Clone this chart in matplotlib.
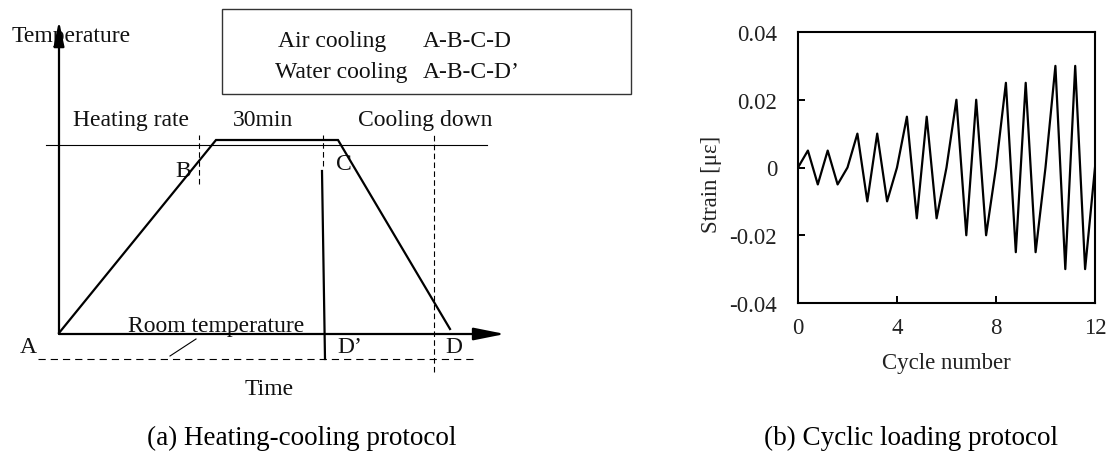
import matplotlib.pyplot as plt
from matplotlib.patches import Rectangle

plt.rcParams["font.family"] = ["Liberation Serif", "DejaVu Serif"]

# (a) schematic heating-cooling protocol, time/temperature in sketch units
air_t = [0, 157, 279, 391]
air_T = [1, 194, 194, 5]
water_t = [263, 266]
water_T = [163, -25]
max_T = 189
room_T = -25
guide_t = [140, 264, 375]
guide_lo = [150, 168, -38]
guide_hi = 199
axis_T_top = 313
axis_t_end = 446

# (b) cyclic loading history
cycle = [0, 0.4, 0.8, 1.2, 1.6, 2.0, 2.4, 2.8, 3.2, 3.6, 4.0, 4.4, 4.8, 5.2, 5.6,
         6.0, 6.4, 6.8, 7.2, 7.6, 8.0, 8.4, 8.8, 9.2, 9.6, 10.0, 10.4, 10.8, 11.2,
         11.6, 12.0]
strain = [0, 0.005, -0.005, 0.005, -0.005, 0, 0.01, -0.01, 0.01, -0.01, 0,
          0.015, -0.015, 0.015, -0.015, 0, 0.02, -0.02, 0.02, -0.02, 0,
          0.025, -0.025, 0.025, -0.025, 0, 0.03, -0.03, 0.03, -0.03, 0]
yticks = [-0.04, -0.02, 0, 0.02, 0.04]
ytick_labels = ["-0.04", "-0.02", "0", "0.02", "0.04"]
xticks = [0, 4, 8, 12]

W, H = 1108, 452
fig = plt.figure(figsize=(W / 100, H / 100), dpi=100)

# left panel: one data unit = one pixel, origin at point A
ax = fig.add_axes([0, 0, 640 / W, 1])
ax.set_xlim(-59, 640 - 59)
ax.set_ylim(335 - H, 335)
ax.axis("off")

fs = 17
k = "k"
ax.plot([-13, 428], [max_T, max_T], color=k, lw=0.8)
ax.plot([-21, 418], [room_T, room_T], color=k, lw=0.8, ls=(0, (6.5, 4.5)))
for t, lo in zip(guide_t, guide_lo):
    ax.plot([t, t], [lo, guide_hi], color=k, lw=0.8, ls=(0, (5, 3)))

ax.annotate("", xy=(0, axis_T_top), xytext=(0, 0), zorder=4,
            arrowprops=dict(arrowstyle="-|>,head_length=1.5,head_width=0.32",
                            mutation_scale=10, lw=1.6, color=k,
                            shrinkA=0, shrinkB=0))
ax.annotate("", xy=(axis_t_end, 0), xytext=(0, 0), zorder=4,
            arrowprops=dict(arrowstyle="-|>,head_length=1.9,head_width=0.38",
                            mutation_scale=10, lw=1.6, color=k,
                            shrinkA=0, shrinkB=0))

ax.plot(air_t, air_T, color=k, lw=1.6, solid_joinstyle="miter")
ax.plot(water_t, water_T, color=k, lw=1.6)
ax.plot([111, 137], [-22, -5], color=k, lw=0.8)

ax.add_patch(Rectangle((163, 240), 409, 85, fill=False, lw=1.0, ec="#333333"))

labels = [
    ("Temperature", -47, 293),
    ("Air cooling", 219, 288),
    ("A-B-C-D", 364, 288),
    ("Water cooling", 216, 257),
    ("A-B-C-D\u2019", 364, 257),
    ("Heating rate", 14, 209),
    ("30min", 174, 209),
    ("Cooling down", 299, 209),
    ("B", 116, 158),
    ("C", 277, 165),
    ("Room temperature", 69, 3),
    ("A", -39, -18),
    ("D\u2019", 278, -18),
    ("D", 386, -18),
    ("Time", 186, -60),
]
for s, x, y in labels:
    ax.text(x, y, s, fontsize=fs, ha="left", va="baseline", color="#111111",
            zorder=1)

fig.text(302 / W, 1 - 445 / H, "(a) Heating-cooling protocol", fontsize=19.5,
         ha="center", va="baseline")

# right panel: strain history
ax2 = fig.add_axes([798 / W, 1 - 304 / H, 297 / W, 271 / H])
ax2.plot(cycle, strain, color=k, lw=1.6)
ax2.set_xlim(0, 12)
ax2.set_ylim(-0.04, 0.04)
ax2.set_xticks(xticks)
ax2.set_yticks(yticks)
ax2.set_yticklabels(ytick_labels)
for sp in ax2.spines.values():
    sp.set_linewidth(1.5)
ax2.tick_params(direction="in", length=5, width=1.4, labelsize=16.5,
                labelcolor="#222222")
ax2.tick_params(axis="y", pad=15)
ax2.tick_params(axis="x", pad=10)
ax2.set_xlabel("Cycle number", fontsize=16.5, color="#222222", labelpad=10)
ax2.set_ylabel("Strain [\u03bc\u03b5]", fontsize=16.5, color="#222222")
ax2.yaxis.set_label_coords(-0.256, 0.44)

fig.text(911 / W, 1 - 445 / H, "(b) Cyclic loading protocol", fontsize=19.5,
         ha="center", va="baseline")

fig.savefig("out.png", dpi=100)
